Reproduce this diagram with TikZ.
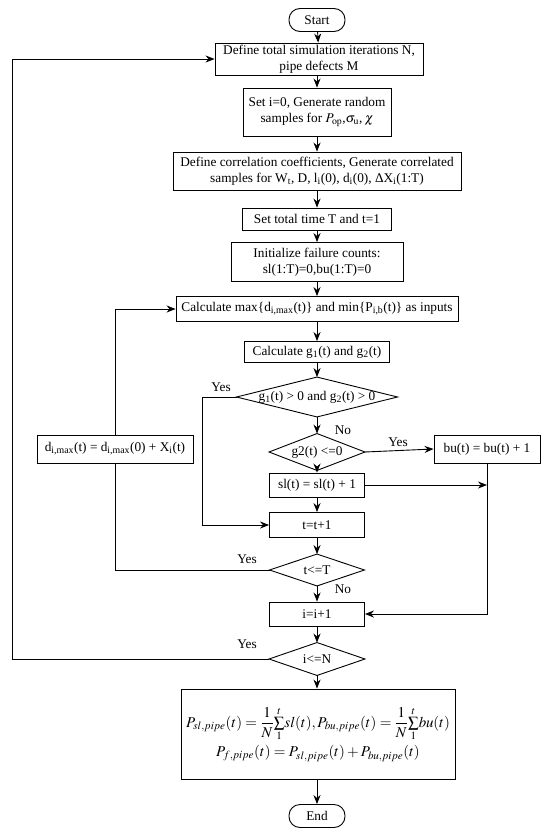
\documentclass[tikz,border=0pt]{standalone}
\usepackage{mathptmx}
\usepackage{fontspec}
\setmainfont{Liberation Serif}
\usetikzlibrary{arrows.meta}
\newcommand{\sbs}[1]{\textsubscript{#1}}
\begin{document}
\begin{tikzpicture}
[x=1pt, y=-1pt, line width=0.9pt, >={Stealth[length=9pt,width=7pt]},
font=\fontsize{13.3}{15.5}\selectfont,
process/.style={rectangle, draw, inner sep=1pt, align=center},
terminal/.style={rectangle, draw, rounded corners=11pt, inner sep=1pt, minimum width=56, minimum height=23},
decision/.style={rectangle, inner sep=0pt},
answer/.style={inner sep=1pt}]

\useasboundingbox (0,0) rectangle (550,835);

% main column
\node[terminal] (start) at (317,20) {Start};
\node[process, minimum width=208, minimum height=32] (define) at (319,59) {Define total simulation iterations N,\\pipe defects M};
\node[process, minimum width=148, minimum height=48] (sample) at (317,112) {Set i=0, Generate random\\samples for $P_{\mathrm{op}}$,$\sigma_{\mathrm{u}}$,\,$\chi$};
\node[process, minimum width=288, minimum height=38] (correl) at (317,171) {Define correlation coefficients, Generate correlated\\samples for W\sbs{t}, D, l\sbs{i}(0), d\sbs{i}(0), ΔX\sbs{i}(1:T)};
\node[process, minimum width=149, minimum height=22] (settime) at (317,219) {Set total time T and t=1};
\node[process, minimum width=172, minimum height=39] (init) at (317,262) {Initialize failure counts:\\sl(1:T)=0,bu(1:T)=0};
\node[process, minimum width=282, minimum height=25] (inputs) at (317,309) {Calculate max\{d\sbs{i,max}(t)\} and min\{P\sbs{i,b}(t)\} as inputs};
\node[process, minimum width=145, minimum height=21] (limits) at (317,352) {Calculate g\sbs{1}(t) and g\sbs{2}(t)};
\node[decision, minimum width=160, minimum height=39] (both) at (317,397) {g\sbs{1}(t) > 0 and g\sbs{2}(t) > 0};
\node[decision, minimum width=95, minimum height=36] (burst) at (317,452) {g2(t) <=0};
\node[process, minimum width=95, minimum height=24] (leak) at (317,485) {sl(t) = sl(t) + 1};
\node[process, minimum width=95, minimum height=25] (tstep) at (317,525) {t=t+1};
\node[decision, minimum width=94, minimum height=31] (tcheck) at (317,570) {t<=T};
\node[process, minimum width=95, minimum height=24] (istep) at (317,614) {i=i+1};
\node[decision, minimum width=95, minimum height=32] (icheck) at (317,659) {i<=N};
\node[process, minimum width=274, minimum height=90, font=\fontsize{15}{17}\selectfont] (prob) at (318,734) {$\displaystyle P_{sl,pipe}(t)=\frac{1}{N}{\textstyle\sum\limits_{1}^{t}}sl(t),P_{bu,pipe}(t)=\frac{1}{N}{\textstyle\sum\limits_{1}^{t}}bu(t)$\\[3pt]$P_{f,pipe}(t)=P_{sl,pipe}(t)+P_{bu,pipe}(t)$};
\node[terminal] (end) at (317,816) {End};

% side boxes
\node[process, minimum width=106, minimum height=28] (bucount) at (487,449) {bu(t) = bu(t) + 1};
\node[process, minimum width=156, minimum height=28] (growth) at (115,449) {d\sbs{i,max}(t) = d\sbs{i,max}(0) + X\sbs{i}(t)};

\foreach \d in {both,burst,tcheck,icheck}
  \draw (\d.west) -- (\d.north) -- (\d.east) -- (\d.south) -- cycle;

\coordinate (skip) at (202,397);
\coordinate (outer) at (12,659);

% connectors
\draw[->] (start) -- (define);
\draw[->] (define.south -| start) -- (sample);
\draw[->] (sample) -- (correl);
\draw[->] (correl) -- (settime);
\draw[->] (settime) -- (init);
\draw[->] (init) -- (inputs);
\draw[->] (inputs) -- (limits);
\draw[->] (limits) -- (both);
\draw[->] (both) -- (burst);
\draw[->] (burst.east) -- (bucount.west);
\draw[->] (burst) -- (leak);
\draw[->] (leak) -- (tstep);
\draw[->] (tstep) -- (tcheck);
\draw[->] (tcheck) -- (istep);
\draw[->] (istep) -- (icheck);
\draw[->] (icheck) -- (icheck |- prob.north);
\draw[->] (prob.south -| end) -- (end);
\draw[->] (both.west) -- (skip) |- (tstep.west);
\draw[->] (leak.east) -- (leak.east -| bucount.south);
\draw[->] (bucount.south) |- (istep.east);
\draw (tcheck.west) -| (growth.south);
\draw[->] (growth.north) |- (inputs.west);
\draw[->] (icheck.west) -- (outer) |- (define.west);

\node[answer] (yes1) at (221,387) {Yes};
\node[answer] (no1) at (343,430) {No};
\node[answer] (yes2) at (398,442) {Yes};
\node[answer] (yes3) at (247,559) {Yes};
\node[answer] (no2) at (343,589) {No};
\node[answer] (yes4) at (247,644) {Yes};
\end{tikzpicture}
\end{document}
